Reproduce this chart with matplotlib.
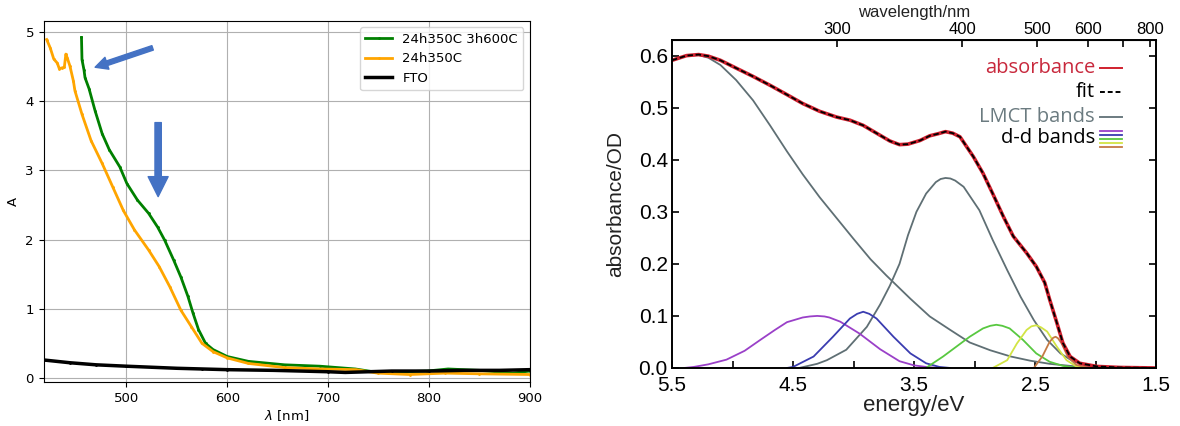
#!/usr/bin/python
# -*- coding: utf-8 -*-

'''
Two absorption spectra side by side:
left  - UV-vis of the films (A vs wavelength)
right - absorbance of the complex split into LMCT and d-d bands
'''

import numpy as np
import matplotlib.pyplot as plt

# ---- left panel data ----
green_nm = [455.5, 456, 458, 459, 463, 469, 476, 483, 493.5, 500.5, 511, 522, 531,
            538, 547, 554, 561, 566, 571.5, 578.5, 586, 600, 621, 657, 692, 727,
            749, 775, 798, 819, 850, 883, 900]
green_A = [4.92, 4.60, 4.45, 4.34, 4.18, 3.86, 3.53, 3.30, 3.05, 2.81, 2.57, 2.38, 2.18,
           1.99, 1.70, 1.46, 1.18, 0.94, 0.70, 0.50, 0.41, 0.31, 0.24, 0.19, 0.17, 0.13,
           0.08, 0.09, 0.10, 0.13, 0.11, 0.07, 0.10]

orange_nm = [421, 424.5, 428, 431.5, 433.5, 436, 438.5, 440, 441.5, 444, 447.5, 449, 456,
             465, 476, 486.5, 497, 508, 522, 532.5, 543, 554, 564.5, 575, 586, 600, 621,
             657, 692, 728, 749, 781, 816, 850, 900]
orange_A = [4.89, 4.77, 4.61, 4.55, 4.47, 4.48, 4.49, 4.68, 4.62, 4.51, 4.29, 4.15, 3.81,
            3.43, 3.10, 2.76, 2.42, 2.14, 1.85, 1.61, 1.32, 0.98, 0.74, 0.50, 0.38, 0.29, 0.21,
            0.15, 0.13, 0.12, 0.07, 0.05, 0.07, 0.06, 0.05]

fto_nm = [418, 444, 470, 500, 525, 550, 575, 600, 646, 700, 717, 763, 800, 834, 870, 900]
fto_A = [0.26, 0.22, 0.19, 0.17, 0.155, 0.14, 0.13, 0.12, 0.11, 0.09, 0.08, 0.10, 0.10,
         0.11, 0.11, 0.12]

left_labels = ['24h350C 3h600C', '24h350C', 'FTO']

# arrows drawn on the left panel (tail, head) in data units
arrow_diag = ((526, 4.77), (469, 4.49))
arrow_down = ((531.5, 3.69), (531.5, 2.62))

# ---- right panel data (energy in eV, absorbance in OD) ----
abs_E = [5.50, 5.38, 5.28, 5.20, 5.10, 4.97, 4.83, 4.69, 4.55, 4.42, 4.28, 4.14, 4.03,
         3.92, 3.81, 3.70, 3.62, 3.55, 3.45, 3.37, 3.30, 3.24, 3.18, 3.12, 3.01, 2.93,
         2.85, 2.76, 2.68, 2.57, 2.49, 2.42, 2.38, 2.32, 2.27, 2.21, 2.13, 1.99, 1.80, 1.50]
abs_A = [0.591, 0.600, 0.602, 0.599, 0.591, 0.576, 0.560, 0.543, 0.525, 0.508, 0.493,
         0.482, 0.476, 0.466, 0.451, 0.436, 0.429, 0.430, 0.437, 0.446, 0.450, 0.454,
         0.451, 0.444, 0.406, 0.374, 0.335, 0.290, 0.253, 0.221, 0.195, 0.164, 0.132,
         0.087, 0.048, 0.022, 0.009, 0.003, 0.001, 0.000]

lmct1_E = [5.50, 5.38, 5.28, 5.20, 5.10, 4.97, 4.83, 4.69, 4.55, 4.42, 4.28, 4.14, 4.00,
           3.86, 3.73, 3.53, 3.37, 3.20, 3.04, 2.87, 2.70, 2.54, 2.38, 2.21, 2.05, 1.90]
lmct1_A = [0.592, 0.600, 0.601, 0.596, 0.582, 0.553, 0.514, 0.466, 0.416, 0.372, 0.328,
           0.288, 0.248, 0.209, 0.178, 0.133, 0.099, 0.073, 0.049, 0.034, 0.022, 0.014,
           0.008, 0.004, 0.001, 0.000]

lmct2_E = [4.45, 4.30, 4.22, 4.06, 3.89, 3.78, 3.70, 3.62, 3.55, 3.48, 3.40, 3.32, 3.28,
           3.24, 3.20, 3.16, 3.09, 2.96, 2.85, 2.73, 2.62, 2.51, 2.40, 2.29, 2.18, 2.05, 1.90]
lmct2_A = [0.000, 0.008, 0.015, 0.035, 0.079, 0.122, 0.158, 0.200, 0.255, 0.300, 0.335,
           0.357, 0.363, 0.365, 0.364, 0.360, 0.348, 0.303, 0.246, 0.188, 0.137, 0.092,
           0.054, 0.028, 0.012, 0.004, 0.000]

purple_E = [5.40, 5.32, 5.20, 5.05, 4.90, 4.77, 4.65, 4.55, 4.42, 4.36, 4.30, 4.24, 4.20,
            4.11, 3.95, 3.78, 3.62, 3.50, 3.40, 3.30]
purple_A = [0.000, 0.002, 0.007, 0.016, 0.033, 0.054, 0.073, 0.088, 0.097, 0.099, 0.100,
            0.099, 0.097, 0.089, 0.066, 0.036, 0.013, 0.005, 0.002, 0.000]

blue_E = [4.55, 4.50, 4.33, 4.17, 4.03, 3.97, 3.92, 3.87, 3.81, 3.67, 3.53, 3.40, 3.29, 3.20]
blue_A = [0.000, 0.002, 0.022, 0.060, 0.095, 0.104, 0.108, 0.104, 0.095, 0.060, 0.028,
          0.009, 0.002, 0.000]

green_E = [3.40, 3.37, 3.26, 3.15, 3.04, 2.93, 2.87, 2.82, 2.77, 2.71, 2.60, 2.49, 2.38,
           2.27, 2.15]
green_OD = [0.000, 0.005, 0.022, 0.041, 0.060, 0.076, 0.081, 0.083, 0.081, 0.076, 0.054,
            0.028, 0.012, 0.004, 0.000]

yellow_E = [2.85, 2.73, 2.65, 2.57, 2.53, 2.49, 2.45, 2.40, 2.32, 2.24, 2.16, 2.08]
yellow_A = [0.000, 0.015, 0.047, 0.073, 0.080, 0.082, 0.078, 0.070, 0.041, 0.015, 0.003, 0.000]

brown_E = [2.51, 2.44, 2.38, 2.35, 2.33, 2.31, 2.28, 2.23, 2.16, 2.07, 2.00]
brown_A = [0.000, 0.022, 0.050, 0.058, 0.060, 0.057, 0.047, 0.022, 0.006, 0.001, 0.000]

dd_colors = ['#9a40c8', '#3a3cb0', '#58c840', '#d2e444', '#c47a44']

energy_ticks = [5.5, 5.0, 4.5, 4.0, 3.5, 3.0, 2.5, 2.0, 1.5]
energy_labels = ['5.5', '', '4.5', '', '3.5', '', '2.5', '', '1.5']
wl_ticks = [300, 400, 500, 600, 700, 800]
wl_labels = ['300', '400', '500', '600', '', '800']


def ev_to_nm(e):
    e = np.asarray(e, dtype=float)
    return np.divide(1239.84, e, out=np.full_like(e, np.inf), where=e != 0)


def main():
    fig = plt.figure(figsize=(11.8, 4.26), dpi=100)

    # ---------------- left: measured spectra ----------------
    ax1 = fig.add_axes([0.037, 0.103, 0.412, 0.848])
    ax1.plot(green_nm, green_A, color='green', lw=2, marker='.', ms=2, label=left_labels[0])
    ax1.plot(orange_nm, orange_A, color='orange', lw=2, marker='.', ms=2, label=left_labels[1])
    ax1.plot(fto_nm, fto_A, color='black', lw=2.5, marker='.', ms=2, label=left_labels[2])

    for (tail, head), hw, tw in ((arrow_diag, 0.75, 0.28), (arrow_down, 1.2, 0.38)):
        ax1.annotate('', xy=head, xytext=tail,
                     arrowprops=dict(arrowstyle='simple,head_length=%g,head_width=%g,tail_width=%g'
                                     % (hw, hw, tw),
                                     color='#4472c4', mutation_scale=12, shrinkA=0, shrinkB=0))

    ax1.set_xlim(418, 900)
    ax1.set_ylim(-0.06, 5.16)
    ax1.set_xticks([500, 600, 700, 800, 900])
    ax1.set_yticks([0, 1, 2, 3, 4, 5])
    ax1.tick_params(labelsize=9.5)
    ax1.grid(visible=True, which='major', axis='both')
    ax1.set_xlabel(r'$\lambda$ [nm]', fontsize=9.5, labelpad=2)
    ax1.set_ylabel('A', fontsize=9.5, labelpad=4)
    ax1.legend(loc='upper right', fontsize=9.5)

    # ---------------- right: band decomposition ----------------
    font = 'Liberation Sans'
    ax2 = fig.add_axes([0.5695, 0.1362, 0.4102, 0.7699])
    ax2.plot(lmct1_E, lmct1_A, color='#5f6f74', lw=1.3)
    ax2.plot(lmct2_E, lmct2_A, color='#5f6f74', lw=1.3)
    ax2.plot(purple_E, purple_A, color=dd_colors[0], lw=1.3)
    ax2.plot(blue_E, blue_A, color=dd_colors[1], lw=1.3)
    ax2.plot(green_E, green_OD, color=dd_colors[2], lw=1.3)
    ax2.plot(yellow_E, yellow_A, color=dd_colors[3], lw=1.3)
    ax2.plot(brown_E, brown_A, color=dd_colors[4], lw=1.3)
    # measured absorbance and the fit on top of it
    ax2.plot(abs_E, abs_A, color='#d0202e', lw=2.6)
    ax2.plot(abs_E, abs_A, color='black', lw=1.3, ls=(0, (3, 1.5)))

    ax2.set_xlim(5.5, 1.5)
    ax2.set_ylim(0, 0.63)
    ax2.set_xticks(energy_ticks)
    ax2.set_xticklabels(energy_labels)
    ax2.set_yticks([0.0, 0.1, 0.2, 0.3, 0.4, 0.5, 0.6])
    ax2.set_yticklabels(['0.0', '0.1', '0.2', '0.3', '0.4', '0.5', '0.6'])
    ax2.tick_params(direction='in', length=5, width=1.2, labelsize=15, right=True, pad=3)
    ax2.tick_params(axis='x', pad=6)
    for lab in ax2.get_xticklabels() + ax2.get_yticklabels():
        lab.set_family(font)
    for sp in ax2.spines.values():
        sp.set_linewidth(1.4)
    ax2.set_xlabel('energy/eV', fontsize=16, family=font, labelpad=0, color='#222222')
    ax2.set_ylabel('absorbance/OD', fontsize=15, family=font, labelpad=10, color='#222222')

    sec = ax2.secondary_xaxis('top', functions=(ev_to_nm, ev_to_nm))
    sec.set_xticks(wl_ticks)
    sec.set_xticklabels(wl_labels)
    sec.tick_params(direction='in', length=5, width=1.2, labelsize=12, pad=2)
    for lab in sec.get_xticklabels():
        lab.set_family(font)
    sec.set_xlabel('wavelength/nm', fontsize=12, family=font, labelpad=4, color='#222222')

    # hand-made legend, text on the left and line sample on the right
    lfont = 'Open Sans'
    rows = [('absorbance', '#c8283c', 0.914), ('fit', 'black', 0.842),
            ('LMCT bands', '#6b7b80', 0.766), ('d-d bands', 'black', 0.700)]
    for txt, col, yy in rows:
        ax2.text(0.874, yy, txt, transform=ax2.transAxes, ha='right', va='center',
                 fontsize=14.5, family=lfont, color=col)
    ax2.plot([0.884, 0.93], [0.914, 0.914], transform=ax2.transAxes, color='#d0202e', lw=1.4)
    ax2.plot([0.884, 0.93], [0.842, 0.842], transform=ax2.transAxes, color='black', lw=1.4,
             ls=(0, (2.5, 1.5)))
    ax2.plot([0.884, 0.93], [0.766, 0.766], transform=ax2.transAxes, color='#6b7b80', lw=1.4)
    for i, col in enumerate(dd_colors):
        yy = 0.722 - i * 0.012
        ax2.plot([0.884, 0.93], [yy, yy], transform=ax2.transAxes, color=col, lw=1.3)

    fig.savefig('out.png', dpi=100)


if __name__ == '__main__':
    main()
